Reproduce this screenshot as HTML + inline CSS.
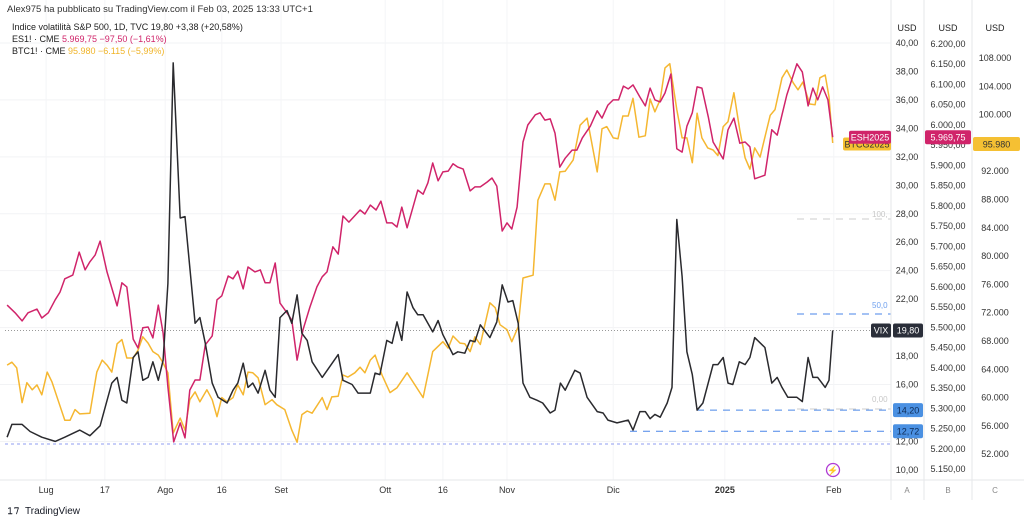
<!DOCTYPE html>
<html><head><meta charset="utf-8">
<style>
html,body{margin:0;padding:0;background:#fff;}
body{width:1024px;height:522px;overflow:hidden;font-family:"Liberation Sans",sans-serif;}
svg text{font-family:"Liberation Sans",sans-serif;}
</style></head>
<body>
<svg id="chart" width="1024" height="522" viewBox="0 0 1024 522" xmlns="http://www.w3.org/2000/svg">
<g id="grid"></g>
<g id="refs"></g>
<g id="series"></g>
<g id="axes"></g>
<g id="header">
<text x="7" y="12" font-size="9.5" fill="#333">Alex975 ha pubblicato su TradingView.com il Feb 03, 2025 13:33 UTC+1</text>
<text x="12" y="30" font-size="9" fill="#222">Indice volatilità S&amp;P 500, 1D, TVC  19,80  +3,38 (+20,58%)</text>
<text x="12" y="42" font-size="9" fill="#222">ES1! · CME  <tspan fill="#d0246a">5.969,75  −97,50 (−1,61%)</tspan></text>
<text x="12" y="54" font-size="9" fill="#222">BTC1! · CME  <tspan fill="#f0b429">95.980  −6.115 (−5,99%)</tspan></text>
</g>
<g>
<text x="7" y="514" font-size="10" font-weight="bold" fill="#131722">𝟷𝟽</text>
<text x="25" y="514" font-size="10" fill="#131722">TradingView</text>
</g>
<g>
<circle cx="833" cy="470" r="6.5" fill="none" stroke="#b03bd4" stroke-width="1.3"/>
<text x="833" y="473.5" font-size="9" fill="#b03bd4" text-anchor="middle">⚡</text>
</g>
</svg>
<script>
// ---- data ----
const vixDays=[0.4,1.3,3.2,4.7,6.9,9.4,11.2,14,15.9,17.8,20,21,21.9,22.8,24,24.9,25.8,26.8,27.7,28.7,29.6,30.5,31.5,32.8,33.7,35.6,36.5,37.5,38.8,39.9,41.6,42.7,43.6,44.6,45.5,46.4,47.4,48.7,49.6,50.6,51.5,52.8,53.7,54.7,55.6,56.6,57.5,59.4,62.4,63.3,65,66.1,68.4,69.3,70.2,71.5,72.5,73.4,74.3,75.3,76.4,77.3,78.3,80.1,81.1,82,83.9,84.8,86.1,87.1,88,89,90.8,92.1,93.1,94.2,95.1,96.1,97,98.3,99.6,100.7,102.1,103,104,104.9,106.7,107.7,109,110.9,112,112.9,114.6,116.7,117.6,118.9,119.9,120.8,121.7,122.7,124,124.9,125.8,126.8,127.7,128.7,129.6,130.7,132.6,133.5,134.5,135.4,136.3,137.5,138.6,139.5,140.4,142.3,143.6,144.6,145.5,146.6,148.3,149.3,150.4,151.3,152.2,153.6,154.3,155];
const vixValues=[12.3,13.2,13.2,12.7,12.3,12.0,12.3,12.8,12.4,13.1,16.1,16.5,14.9,14.7,17.9,18.3,16.3,16.5,17.6,16.3,17.7,23.1,38.6,27.7,27.8,20.3,20.7,18.9,16.1,15.1,14.7,15.6,16.1,17.5,15.8,16.1,15.4,17.0,15.6,15.1,20.7,21.2,20.3,22.3,19.6,19.1,17.6,16.5,18.1,16.3,16.0,15.4,15.4,16.8,16.7,19.1,18.9,20.4,19.1,22.5,21.4,20.9,20.9,19.7,20.5,19.5,18.1,18.3,18.2,19.1,19.0,20.2,19.3,20.4,23.0,21.8,21.9,20.3,16.1,15.1,14.9,14.7,14.0,14.2,16.1,15.6,17.0,16.8,15.1,14.1,14.0,13.5,13.3,13.5,12.8,14.1,14.1,13.6,13.9,13.7,14.7,15.8,27.6,23.6,18.3,16.7,14.2,14.7,17.4,17.4,17.9,16.1,16.0,17.6,17.4,17.9,19.3,18.6,16.1,16.5,15.8,15.1,15.1,14.8,17.9,16.5,16.5,15.8,16.3,19.8];
const esDays=[0.4,1.9,3.2,4.3,6,6.9,8.1,9.4,10.3,11.2,12.7,13.9,15,15.9,16.9,17.8,19.1,21,21.9,22.8,24,24.9,25.8,26.8,27.7,28.7,29.6,30.5,31.6,32.8,33.7,34.6,35.6,36.5,37.5,38.8,39.7,40.6,41.8,42.7,43.6,44.6,45.5,46.8,47.8,48.7,49.6,50.6,51.5,52.8,53.7,54.7,55.8,57.1,58.4,59.4,60.3,61.4,62.4,63.3,64.4,66.5,67.4,68.4,69.5,70.4,71.5,72.5,73.4,74.3,75.3,76.4,77.3,78.3,79.2,80.1,81.1,82,83,83.9,84.8,85.8,87.1,88,89,90.3,91.2,92.1,93.1,94,94.9,95.9,97,97.9,99.3,100.2,101.1,102.1,103,103.9,104.9,106.2,107.1,108.1,109.6,110.9,111.8,112.9,113.9,114.9,115.8,116.7,117.6,118.9,119.9,120.8,121.7,122.7,123.6,124.7,125.8,126.8,127.7,128.7,129.6,130.5,131.7,132.6,134.5,135.4,136.5,137.6,138.6,139.5,140.4,142.3,143.6,144.6,145.5,146.4,148.3,149.3,150.4,151.3,152.2,153.1,154.1,155];
const esValues=[5555,5536,5516,5536,5545,5523,5536,5568,5587,5620,5629,5686,5642,5662,5679,5713,5637,5553,5610,5600,5471,5449,5499,5501,5474,5555,5486,5353,5217,5264,5227,5345,5370,5370,5457,5479,5568,5578,5627,5620,5639,5595,5649,5637,5642,5610,5610,5659,5560,5536,5518,5419,5494,5550,5600,5625,5637,5699,5681,5775,5760,5790,5780,5802,5790,5812,5758,5758,5748,5797,5746,5797,5839,5829,5857,5906,5862,5884,5886,5904,5896,5891,5837,5847,5847,5859,5869,5849,5738,5758,5743,5797,5958,6000,6025,6030,6012,6015,5980,5896,5918,5938,5938,5968,5997,6035,6017,6049,6062,6062,6096,6089,6099,6069,6047,6091,6062,6057,6079,6126,5941,5933,5997,6030,6094,6091,6020,5958,5916,5988,6017,5955,5958,5946,5867,5876,5988,5975,6025,6074,6151,6131,6047,6091,6062,6094,6062,5969.75];
const btcDays=[0.4,1.3,2.2,3.2,4.1,5.1,6,6.9,7.9,8.8,9.9,11.2,12.2,13.1,14,15.9,17.2,18.2,19.1,20,21,21.9,22.8,24,24.9,25.8,26.8,27.7,28.7,29.6,30.5,31.5,32.8,33.7,34.6,35.6,36.5,37.8,38.8,39.7,40.6,41.6,42.7,43.6,44.6,45.5,46.4,47.4,48.7,50,50.9,52.4,53.7,54.7,55.6,56.6,57.5,59.4,60.3,61.2,62.4,63.3,64.2,65.5,66.5,67.4,68.4,69.3,70.6,72.1,73.4,75.3,78.3,80.1,82,83,83.9,85.2,86.1,87.1,88,89,90.8,91.8,92.7,94,94.9,96.1,97,98.9,99.8,101.1,102.1,103,103.9,104.9,106.4,107.7,109,110.9,111.8,112.7,113.9,114.8,115.7,116.7,117.6,118.7,119.9,120.8,121.7,122.7,123.6,124.5,125.8,126.8,127.7,128.7,129.6,130.5,131.6,132.6,133.5,134.5,135.4,136.5,137.6,138.6,139.5,140.4,141.4,142.3,143.3,144.2,145.5,146.4,147.6,148.5,149.4,150.7,151.7,152.6,153.6,154.3,155];
const btcValues=[64600,65000,64200,59300,62100,61100,61800,60400,63600,62200,59700,56800,56800,58300,57700,57800,63600,65300,64600,63600,67600,68200,65600,65600,66700,68600,67700,66500,66000,64900,63500,55000,57100,55400,59700,60800,59400,61100,59700,57300,60000,59400,60000,61800,60400,63600,63500,62800,59000,59700,59000,58300,55400,53700,57600,58100,57800,60000,58300,60100,60200,63200,62900,63500,64300,63500,65300,66000,63200,60700,61400,63500,60000,66500,67900,67000,68700,67700,67600,66500,68600,67500,73400,72700,70300,69600,67900,70000,76900,77300,87900,90200,90200,87900,91900,92000,93600,98500,99500,91900,98000,98300,96700,96600,99800,99800,102300,96800,97000,102200,100400,102100,106600,107200,100700,96700,96700,93200,100200,96700,95300,95000,94200,98300,99000,103100,97800,93900,92300,95300,94000,96800,99900,100700,105200,106300,104500,103500,104600,101500,101400,105200,105600,102500,95980];
const vixTicks=[40,38,36,34,32,30,28,26,24,22,20,18,16,14,12,10];
const esTicks=[6200,6150,6100,6050,6000,5950,5900,5850,5800,5750,5700,5650,5600,5550,5500,5450,5400,5350,5300,5250,5200,5150];
const btcTicks=[108000,104000,100000,96000,92000,88000,84000,80000,76000,72000,68000,64000,60000,56000,52000];
const xTickLabels=["Lug","17","Ago","16","Set","Ott","16","Nov","Dic","2025","Feb"];
const xTickDays=[7.7,18.7,30,40.6,51.7,71.2,82,94,113.9,134.8,155.2];

// ---- scales ----
const X=d=>5+d*5.34;
const yV=v=>43+(40-v)*14.23;
const yE=v=>44+(6200-v)*0.4048;
const yB=v=>58+(108000-v)*0.007075;
const NS="http://www.w3.org/2000/svg";
function mk(tag,attrs,parent,txt){const e=document.createElementNS(NS,tag);for(const k in attrs)e.setAttribute(k,attrs[k]);if(txt!==undefined)e.textContent=txt;parent.appendChild(e);return e;}
const fmtIt=(v,d)=>{let s=v.toFixed(d).split('.');s[0]=s[0].replace(/\B(?=(\d{3})+(?!\d))/g,'.');return s.join(',');};

const grid=document.getElementById('grid'),refs=document.getElementById('refs'),ser=document.getElementById('series'),axes=document.getElementById('axes');
vixTicks.forEach(t=>{if(t%4===0){const g=mk('line',{x1:0,x2:891,y1:yV(t),y2:yV(t),stroke:'#f2f3f5','stroke-width':1},grid);

}});
xTickDays.forEach((d,i)=>{const g=mk('line',{x1:X(d),x2:X(d),y1:0,y2:480,stroke:'#f4f5f7','stroke-width':1},grid);

});

[[891],[924],[972]].forEach(a=>{const l=mk('line',{x1:a[0],x2:a[0],y1:0,y2:500,stroke:'#e6e7ea'},axes);

});
const bl=mk('line',{x1:0,x2:1024,y1:480,y2:480,stroke:'#e6e7ea'},axes);



function ref(y,x1,color,dash,name){const l=mk('line',{x1:x1,x2:891,y1:y,y2:y,stroke:color,'stroke-dasharray':dash,'stroke-width':1},refs);

}
ref(444,5,'#8f9cf0','3 3','low-reference-line');
ref(yV(19.8),5,'#999','1 2','vix-last-price-line');
ref(yV(14.2),697,'#4a86e8','7 6','vix-14-20-line');
ref(yV(12.72),630,'#4a86e8','7 6','vix-12-72-line');
ref(314,797,'#4a86e8','7 6','fib-50-line');
ref(219,797,'#cccccc','7 6','fib-100-line');
ref(409,797,'#cccccc','7 6','fib-0-line');
[['100,',219,'#c8c8c8'],['50,0',310,'#6fa0ee'],['0,00',404,'#c8c8c8']].forEach(r=>{const t=mk('text',{x:872,y:r[1]-2,'font-size':8,fill:r[2]},refs,r[0]);

});

function line(days,vals,ys,color,name){const d=days.map((t,i)=>(i?'L':'M')+X(t).toFixed(1)+' '+ys(vals[i]).toFixed(1)).join(' ');
const p=mk('path',{d:d,fill:'none',stroke:color,'stroke-width':1.5,'stroke-linejoin':'round'},ser);

}
line(btcDays,btcValues,yB,'#f5b731','btc-line');
line(esDays,esValues,yE,'#d0246a','es-line');
line(vixDays,vixValues,yV,'#2a2a2e','vix-line');

[['USD',907],['USD',948],['USD',995]].forEach(h=>{const t=mk('text',{x:h[1],y:31,'font-size':9,fill:'#222','text-anchor':'middle'},axes,h[0]);

});
vixTicks.forEach(v=>{const t=mk('text',{x:907,y:yV(v)+3,'font-size':9,fill:'#333','text-anchor':'middle'},axes,fmtIt(v,2));

});
esTicks.forEach(v=>{const t=mk('text',{x:948,y:yE(v)+3,'font-size':9,fill:'#333','text-anchor':'middle'},axes,fmtIt(v,2));

});
btcTicks.forEach(v=>{const t=mk('text',{x:995,y:yB(v)+3,'font-size':9,fill:'#333','text-anchor':'middle'},axes,fmtIt(v,0));

});
xTickLabels.forEach((s,i)=>{const t=mk('text',{x:X(xTickDays[i]),y:493,'font-size':9,fill:'#333','text-anchor':'middle','font-weight':s==='2025'?'bold':'normal'},axes,s);

});
[['A',907],['B',948],['C',995]].forEach(h=>{const t=mk('text',{x:h[1],y:493,'font-size':8,fill:'#888','text-anchor':'middle'},axes,h[0]);

});

function tag(x,y,w,h,bg,fg,txt,name){const g=mk('g',{},axes);


mk('rect',{x:x,y:y-h/2,width:w,height:h,rx:2,fill:bg},g);mk('text',{x:x+w/2,y:y+3.3,'font-size':9,fill:fg,'text-anchor':'middle'},g,txt);}
const lastB=btcValues[btcValues.length-1],lastE=esValues[esValues.length-1],lastV=vixValues[vixValues.length-1];
tag(843,yB(lastB)+1,48,13,'#f5c033','#333','BTCG2025','btc-contract-tag');
tag(973,yB(lastB)+1,47,14,'#f5c033','#333',fmtIt(lastB,0),'btc-price-tag');
tag(849,yE(lastE),42,13,'#d0246a','#fff','ESH2025','es-contract-tag');
tag(925,yE(lastE),46,14,'#d0246a','#fff',fmtIt(lastE,2),'es-price-tag');
tag(871,yV(lastV),20,14,'#2a2e39','#fff','VIX','vix-name-tag');
tag(893,yV(lastV),30,14,'#2a2e39','#fff',fmtIt(lastV,2),'vix-price-tag');
tag(893,yV(14.2),30,14,'#4a90e2','#0d2a55','14,20','vix-14-20-tag');
tag(893,yV(12.72),30,14,'#4a90e2','#0d2a55','12,72','vix-12-72-tag');
</script>
</body></html>
